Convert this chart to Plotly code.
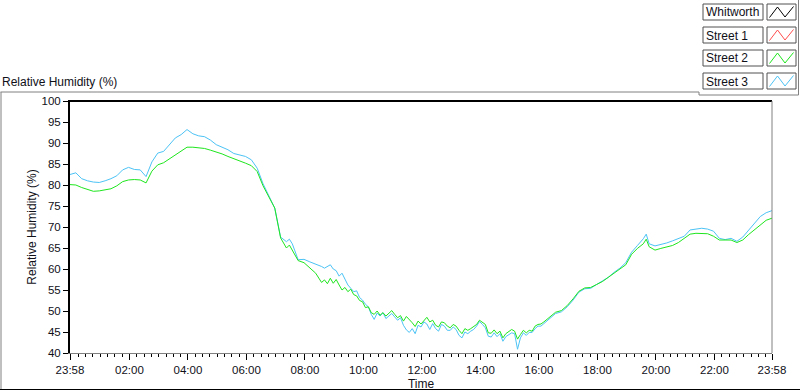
import plotly.graph_objects as go
import pandas as pd

# ---------------- data ----------------
start_time = "2024-01-01 23:58"

hours = [
    0.0, 0.2, 0.4, 0.6, 0.8, 1.0, 1.2, 1.4, 1.6, 1.8, 2.0, 2.2, 2.4, 2.6, 2.8, 3.0, 3.2, 3.4, 3.6, 3.8,
    4.0, 4.2, 4.4, 4.6, 4.8, 5.0, 5.2, 5.4, 5.6, 5.8, 6.0, 6.2, 6.4, 6.6, 6.8, 7.0, 7.2,
    7.4, 7.5, 7.6, 7.8, 8.0, 8.2, 8.4,
    8.6, 8.7, 8.8, 8.9, 9.0, 9.1, 9.2, 9.3, 9.4, 9.5, 9.6, 9.7, 9.8, 9.9,
    10.0, 10.1, 10.2, 10.3, 10.4, 10.5, 10.6, 10.7, 10.8, 10.9,
    11.0, 11.1, 11.2, 11.3, 11.4, 11.5, 11.6, 11.7, 11.8, 11.9,
    12.0, 12.1, 12.2, 12.3, 12.4, 12.5, 12.6, 12.7, 12.8, 12.9,
    13.0, 13.1, 13.2, 13.3, 13.4, 13.5, 13.6, 13.7, 13.8, 13.9,
    14.0, 14.1, 14.2, 14.3, 14.4, 14.5, 14.6, 14.7, 14.8, 14.9,
    15.0, 15.1, 15.2, 15.3, 15.4, 15.5, 15.6, 15.7, 15.8, 15.9,
    16.0, 16.1, 16.2, 16.3, 16.4,
    16.6, 16.8, 17.0, 17.2, 17.4, 17.6, 17.8, 18.0, 18.2, 18.4, 18.6, 18.8, 19.0, 19.2, 19.4, 19.6,
    19.7, 19.8, 20.0, 20.2, 20.4, 20.6, 20.8, 21.0, 21.2, 21.4, 21.6, 21.8, 22.0, 22.2, 22.4, 22.6,
    22.8, 23.0, 23.2, 23.4, 23.6, 23.8, 24.0,
]

street2 = [
    80.1, 80.0, 79.4, 78.9, 78.5, 78.6, 78.9, 79.1, 79.8, 80.8, 81.2, 81.3, 81.2, 80.5, 83.3, 84.8, 85.3, 86.2, 87.0, 87.9,
    89.0, 89.0, 88.9, 88.7, 88.3, 87.9, 87.4, 86.8, 86.3, 85.8, 85.2, 84.6, 83.2, 79.8, 77.2, 74.5, 67.4,
    65.0, 65.7, 64.5, 62.0, 61.5, 60.2, 59.0,
    56.8, 57.4, 56.5, 57.8, 56.6, 57.5, 56.2, 55.0, 55.6, 54.6, 55.2, 53.9, 53.6, 52.5,
    52.2, 50.8, 51.0, 49.6, 49.2, 50.0, 49.0, 49.6, 48.8, 49.4,
    50.1, 49.2, 48.4, 48.9, 47.6, 48.7, 48.0, 47.2, 46.3, 47.6,
    46.9, 47.8, 48.5, 47.4, 47.8, 46.6, 46.2, 47.4, 47.2, 46.4,
    46.0, 46.8, 46.4, 45.4, 44.6, 45.8, 45.4, 45.8, 46.3, 46.8,
    47.8, 47.4, 46.8, 44.8, 44.7, 45.5, 44.6, 45.2, 43.6, 44.6,
    45.0, 45.6, 45.2, 43.3, 44.4, 45.4, 44.8, 45.4, 45.2, 46.4,
    46.8, 46.9, 47.4, 48.0, 48.5,
    49.7, 50.1, 51.3, 52.9, 54.7, 55.5, 55.6, 56.3, 57.0, 58.0, 59.0, 59.8, 61.0, 63.5, 64.9, 66.0,
    67.1, 65.3, 64.5, 64.9, 65.2, 65.6, 66.3, 67.2, 68.3, 68.5, 68.5, 68.4, 67.8, 66.9, 66.9, 66.9,
    66.3, 66.9, 68.2, 69.4, 70.6, 71.6, 72.1,
]

street3 = [
    82.5, 82.9, 81.5, 81.0, 80.7, 80.6, 81.0, 81.5, 82.2, 83.6, 84.2, 83.7, 83.6, 82.0, 85.5, 87.6, 88.0, 89.5, 91.2, 92.0,
    93.2, 92.2, 91.7, 91.5, 90.7, 89.6, 89.0, 88.4, 87.5, 87.2, 86.8, 86.0, 84.0, 80.3, 77.5, 74.5, 67.6,
    66.5, 67.1, 66.0, 62.2, 62.3, 61.7, 61.2,
    60.6, 60.2, 60.6, 61.0, 60.0, 59.6, 58.3, 59.0, 57.6, 56.2, 55.4, 54.6, 54.8, 53.2,
    52.6, 51.6, 51.0, 49.2, 48.0, 49.5, 48.8, 49.6, 48.2, 48.8,
    49.4, 48.6, 47.8, 48.4, 46.6, 45.5, 44.9, 45.8, 44.6, 46.6,
    46.2, 47.4, 46.9, 45.6, 47.0, 45.8, 45.2, 46.8, 46.4, 45.4,
    45.4, 46.2, 45.6, 44.2, 43.6, 45.0, 44.6, 45.2, 45.6, 46.4,
    47.5, 46.8, 46.0, 44.0, 43.8, 44.8, 43.9, 44.6, 42.8, 43.9,
    44.4, 44.8, 44.6, 40.9, 43.6, 44.8, 44.2, 44.9, 44.9, 45.8,
    46.4, 46.4, 47.0, 47.6, 48.2,
    49.4, 49.8, 51.0, 52.6, 54.5, 55.3, 55.4, 56.3, 57.1, 58.0, 59.2, 60.2, 61.5, 64.0, 65.6, 67.2,
    68.3, 66.0, 65.5, 65.8, 66.2, 66.7, 67.2, 67.8, 69.3, 69.5, 69.7, 69.5, 69.0, 67.3, 67.0, 67.3,
    66.6, 67.6, 69.3, 71.0, 72.5, 73.4, 73.9,
]

x_tick_times = [
    "2024-01-01 23:58", "2024-01-02 02:00", "2024-01-02 04:00", "2024-01-02 06:00",
    "2024-01-02 08:00", "2024-01-02 10:00", "2024-01-02 12:00", "2024-01-02 14:00",
    "2024-01-02 16:00", "2024-01-02 18:00", "2024-01-02 20:00", "2024-01-02 22:00",
    "2024-01-02 23:58",
]
x_tick_labels = ["23:58", "02:00", "04:00", "06:00", "08:00", "10:00", "12:00",
                 "14:00", "16:00", "18:00", "20:00", "22:00", "23:58"]

legend_labels = ["Whitworth", "Street 1", "Street 2", "Street 3"]
legend_colors = ["#000000", "#ff4d4d", "#1ee61e", "#4cc3f5"]

# ---------------- figure ----------------
t0 = pd.Timestamp(start_time)
times = [t0 + pd.Timedelta(hours=h) for h in hours]

FONT = "Liberation Sans"
TXT = "#101018"
FS = 11.5

fig = go.Figure()
fig.add_trace(go.Scatter(x=times, y=street3, mode="lines", name="Street 3",
                         line=dict(color=legend_colors[3], width=1)))
fig.add_trace(go.Scatter(x=times, y=street2, mode="lines", name="Street 2",
                         line=dict(color=legend_colors[2], width=1)))

W, H = 800, 392
L, R, T, B = 70, 772, 101, 353


def px(x):
    return (x - L) / (R - L)


def py(y):
    return (B - y) / (B - T)


shapes = []


def line(x0, y0, x1, y1, color, width=1):
    shapes.append(dict(type="line", xref="paper", yref="paper",
                       x0=px(x0), y0=py(y0), x1=px(x1), y1=py(y1),
                       line=dict(color=color, width=width)))


# plot frame
line(68, T, R, T, "#000000", 2)
line(R, T, R, B, "#808080", 1)
# outer panel frame
line(0.5, 92, 699, 92, "#808080", 1)
line(699, 92, 699, 95, "#808080", 1)
line(699, 95, 798.5, 95, "#808080", 1)
line(798.5, 0, 798.5, 95, "#808080", 1)
line(1, 92, 1, 389.5, "#808080", 1)
line(0, 389.5, 800, 389.5, "#000000", 1)

annotations = []
for i, (lab, col) in enumerate(zip(legend_labels, legend_colors)):
    y0 = 4 + 23 * i
    y1 = y0 + 16
    shapes.append(dict(type="rect", xref="paper", yref="paper",
                       x0=px(703), x1=px(763), y0=py(y1), y1=py(y0),
                       line=dict(color="#505050", width=1), fillcolor="white"))
    shapes.append(dict(type="rect", xref="paper", yref="paper",
                       x0=px(767), x1=px(796), y0=py(y1), y1=py(y0),
                       line=dict(color="#505050", width=1), fillcolor="white"))
    pts = [(769.5, y0 + 13.5), (777.5, y0 + 3), (785, y0 + 13), (793.5, y0 + 2.5)]
    path = "M " + " L ".join(f"{px(a)},{py(b)}" for a, b in pts)
    shapes.append(dict(type="path", xref="paper", yref="paper", path=path,
                       line=dict(color=col, width=1)))
    annotations.append(dict(text=lab, xref="paper", yref="paper", x=px(704), y=py(y0 + 8.5),
                            xanchor="left", yanchor="middle", showarrow=False,
                            font=dict(family=FONT, size=12, color=TXT)))

fig.update_layout(
    width=W, height=H,
    margin=dict(l=L, r=W - R, t=T, b=H - B, pad=0, autoexpand=False),
    paper_bgcolor="white", plot_bgcolor="white",
    showlegend=False,
    font=dict(family=FONT, size=FS, color=TXT),
    title=dict(text="Relative Humidity (%)", xref="container", yref="container",
               x=2 / W, xanchor="left", y=1 - 82 / H, yanchor="middle",
               font=dict(family=FONT, size=12, color=TXT)),
    shapes=shapes,
    annotations=annotations,
)

fig.update_xaxes(
    type="date", automargin=False,
    range=[x_tick_times[0], x_tick_times[-1]],
    tickmode="array", tickvals=x_tick_times, ticktext=x_tick_labels,
    ticks="outside", ticklen=6, tickwidth=1, tickcolor="#000000",
    ticklabelstandoff=0,
    minor=dict(tickmode="linear", tick0="2024-01-02 00:00", dtick=900000,
               ticks="outside", ticklen=3, tickwidth=1, tickcolor="#000000", showgrid=False),
    showline=True, linecolor="#808080", linewidth=1,
    showgrid=False, zeroline=False,
    tickfont=dict(family=FONT, size=FS, color=TXT),
    title=dict(text="Time", standoff=4, font=dict(family=FONT, size=12, color=TXT)),
)
fig.update_yaxes(
    automargin=False,
    range=[40, 100], tickmode="linear", tick0=40, dtick=5,
    ticks="outside", ticklen=5, tickwidth=1, tickcolor="#000000",
    showline=True, linecolor="#000000", linewidth=2,
    showgrid=False, zeroline=False,
    tickfont=dict(family=FONT, size=FS, color=TXT),
    title=dict(text="Relative Humidity (%)", standoff=2,
               font=dict(family=FONT, size=12, color=TXT)),
)

fig.write_html("out.html", config={"displayModeBar": False},
               post_script="document.body.style.margin='0';")
